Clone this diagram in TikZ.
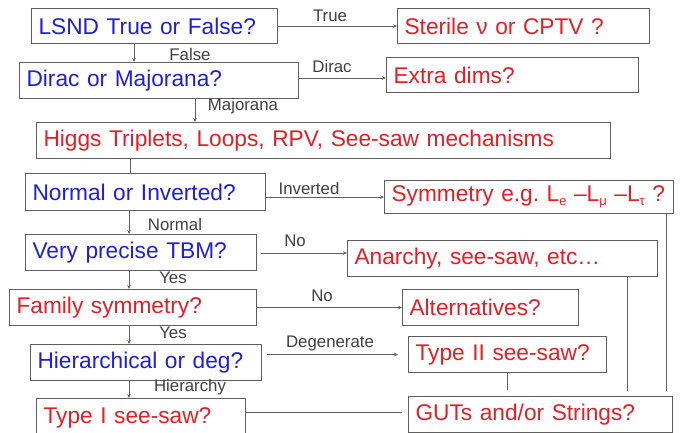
\documentclass[tikz,border=0pt]{standalone}
\usepackage{fontspec}
\setmainfont{Liberation Sans}
\usetikzlibrary{arrows.meta,calc}
\definecolor{qblue}{RGB}{30,30,225}
\definecolor{qred}{RGB}{232,28,36}
\definecolor{qline}{RGB}{95,95,95}
\frenchspacing
\tikzset{
  box/.style={draw=qline, line width=1.1pt, rectangle, anchor=north west, inner xsep=7pt, inner ysep=0pt,
     align=left, font=\fontsize{22.7}{25}\selectfont},
  bq/.style={box, text=qblue},
  br/.style={box, text=qred},
  lab/.style={font=\fontsize{16.8}{18}\selectfont, text=black!75, inner sep=0pt},
  arr/.style={draw=qline, line width=0.9pt, -{Stealth[length=4pt,width=3.5pt]}},
  ln/.style={draw=qline, line width=0.9pt},
}
\newcommand{\mysub}[1]{\raisebox{-0.3ex}{\fontsize{13}{13}\selectfont #1}}
\begin{document}
\begin{tikzpicture}[x=1pt,y=-1pt]
\useasboundingbox (0,0) rectangle (683,433);
% boxes
\node[bq, text width=232pt, minimum height=35pt] (lsnd) at (31,8) {LSND True or False?};
\node[br, text width=238pt, minimum height=35pt] (sterile) at (397,8) {Sterile ν or CPTV ?};
\node[bq, text width=265pt, minimum height=36pt] (dirac) at (19,62) {Dirac or Majorana?};
\node[br, text width=238pt, minimum height=35pt] (extra) at (386,57) {Extra dims?};
\node[br, text width=560pt, minimum height=36pt] (higgs) at (36,122) {Higgs Triplets, Loops, RPV, See-saw mechanisms};
\node[bq, text width=226pt, minimum height=37pt] (normal) at (25,173) {Normal or Inverted?};
\node[br, text width=275pt, minimum height=33pt] (sym) at (384,180) {Symmetry e.g. L\mysub{e} –L\mysub{μ} –L\mysub{τ} ?};
\node[bq, text width=217pt, minimum height=36pt] (tbm) at (25,234) {Very precise TBM?};
\node[br, text width=296pt, minimum height=36pt] (anarchy) at (347,240) {Anarchy, see-saw, etc…};
\node[br, text width=233pt, minimum height=36pt] (family) at (9,289) {Family symmetry?};
\node[br, text width=162pt, minimum height=36pt] (alt) at (402,289) {Alternatives?};
\node[bq, text width=217pt, minimum height=36pt] (hier) at (30,344) {Hierarchical or deg?};
\node[br, text width=184pt, minimum height=36pt] (type2) at (408,336) {Type II see-saw?};
\node[br, text width=195pt, minimum height=38pt] (type1) at (36,398) {Type I see-saw?};
\node[br, text width=250pt, minimum height=36pt] (guts) at (408,396) {GUTs and/or Strings?};
% horizontal connectors
\draw[arr] (lsnd.east) -- (lsnd.east -| sterile.west);
\draw[arr] (dirac.east |- 0,78) -- (extra.west |- 0,78);
\draw[arr] (normal.east |- sym.west) -- (sym.west);
\draw[arr] ([xshift=4pt]tbm.east |- 0,253) -- (anarchy.west |- 0,253);
\draw[arr] (family.east) -- (family.east -| alt.west);
\draw[arr, shorten >=10pt] ([xshift=5pt]hier.east |- type2.west) -- (type2.west);
\draw[ln, shorten >=6pt] (type1.east |- 0,412) -- (guts.west |- 0,412);
% vertical connectors
\draw[arr] ([xshift=103pt]lsnd.south west) -- ([xshift=103pt]lsnd.south west |- dirac.north);
\draw[arr] ([xshift=176pt]dirac.south west) -- ([xshift=176pt]dirac.south west |- higgs.north);
\draw[ln] ([xshift=94pt]higgs.south west) -- ([xshift=94pt]higgs.south west |- normal.north);
\draw[arr] ([xshift=104pt]normal.south west) -- ([xshift=104pt]normal.south west |- tbm.north);
\draw[arr] ([xshift=104pt]tbm.south west) -- ([xshift=104pt]tbm.south west |- family.north);
\draw[arr] ([xshift=120pt]family.south west) -- ([xshift=120pt]family.south west |- hier.north);
\draw[arr] ([xshift=99pt]hier.south west) -- ([xshift=99pt]hier.south west |- type1.north);
\draw[ln, shorten >=6pt] ([xshift=99pt]type2.south west) -- ([xshift=99pt]type2.south west |- guts.north);
\draw[ln, shorten >=5pt] ([xshift=280pt]anarchy.south west) -- ([xshift=280pt]anarchy.south west |- guts.north);
\draw[ln, shorten >=5pt] ([xshift=282pt]sym.south west) -- ([xshift=282pt]sym.south west |- guts.north);
% labels
\node[lab] (lTrue) at (330,16) {True};
\node[lab] (lFalse) at (190,54) {False};
\node[lab] (lDirac) at (332,66) {Dirac};
\node[lab] (lMaj) at (243,106) {Majorana};
\node[lab] (lInv) at (309,188) {Inverted};
\node[lab] (lNorm) at (175,224) {Normal};
\node[lab] (lNo1) at (295,241) {No};
\node[lab] (lYes1) at (173,278) {Yes};
\node[lab] (lNo2) at (322,296) {No};
\node[lab] (lYes2) at (173,333) {Yes};
\node[lab] (lDeg) at (330,343) {Degenerate};
\node[lab] (lHier) at (190,387) {Hierarchy};
\end{tikzpicture}
\end{document}
